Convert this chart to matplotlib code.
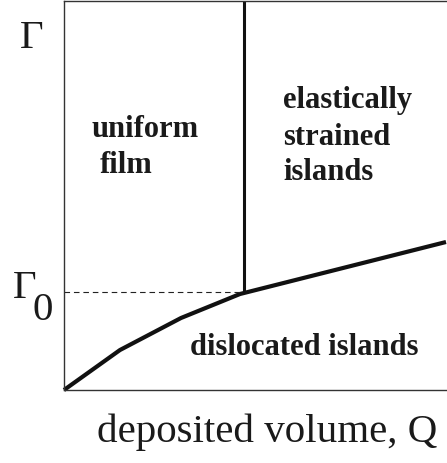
import matplotlib
matplotlib.use("Agg")
import matplotlib.pyplot as plt

# boundary between dislocated islands and the rest (axes units ~ pixels)
q_bound = [0, 56, 117, 176, 382]
gamma_bound = [0, 40, 72, 96, 148]
# vertical boundary uniform film / strained islands
q_crit = 180
gamma0 = 98
gamma_top = 389

plt.rcParams["font.family"] = ["Liberation Serif", "DejaVu Serif"]

fig = plt.figure(figsize=(4.47, 4.63), dpi=100)
ax = fig.add_axes([64 / 447, 73 / 463, 383 / 447, 389 / 463])
ax.set_xlim(0, 383)
ax.set_ylim(0, 389)

ax.plot(q_bound, gamma_bound, color="#111111", lw=3.0, solid_capstyle="butt", clip_on=False)
ax.plot([q_crit, q_crit], [gamma0, gamma_top], color="#111111", lw=2.2, solid_capstyle="butt")
ax.plot([0, q_crit - 4], [gamma0, gamma0], color="#222222", lw=0.8, dashes=(5, 3.5))

for s in ["left", "bottom", "top"]:
    ax.spines[s].set_linewidth(1.0)
    ax.spines[s].set_color("#333333")
ax.spines["right"].set_visible(False)
ax.set_xticks([])
ax.set_yticks([])

bold = dict(fontsize=22, fontweight="bold", color="#1a1a1a", ha="left", va="baseline")
ax.text(28, 390 - 137, "uniform", **bold)
ax.text(36, 390 - 173, "film", **bold)
ax.text(219, 390 - 108, "elastically", **bold)
ax.text(219, 390 - 145, "strained", **bold)
ax.text(219, 390 - 180, "islands", **bold)
ax.text(126, 390 - 355, "dislocated islands", **bold)

reg = dict(fontsize=29.5, color="#1a1a1a", ha="left", va="baseline")
fig.text(20 / 447, 1 - 48 / 463, "Γ", **reg)
fig.text(13 / 447, 1 - 298 / 463, "Γ", **reg)
fig.text(33 / 447, 1 - 320 / 463, "0", **reg)
fig.text(97 / 447, 1 - 442 / 463, "deposited volume, Q", **reg)

fig.savefig("out.png", dpi=100)
